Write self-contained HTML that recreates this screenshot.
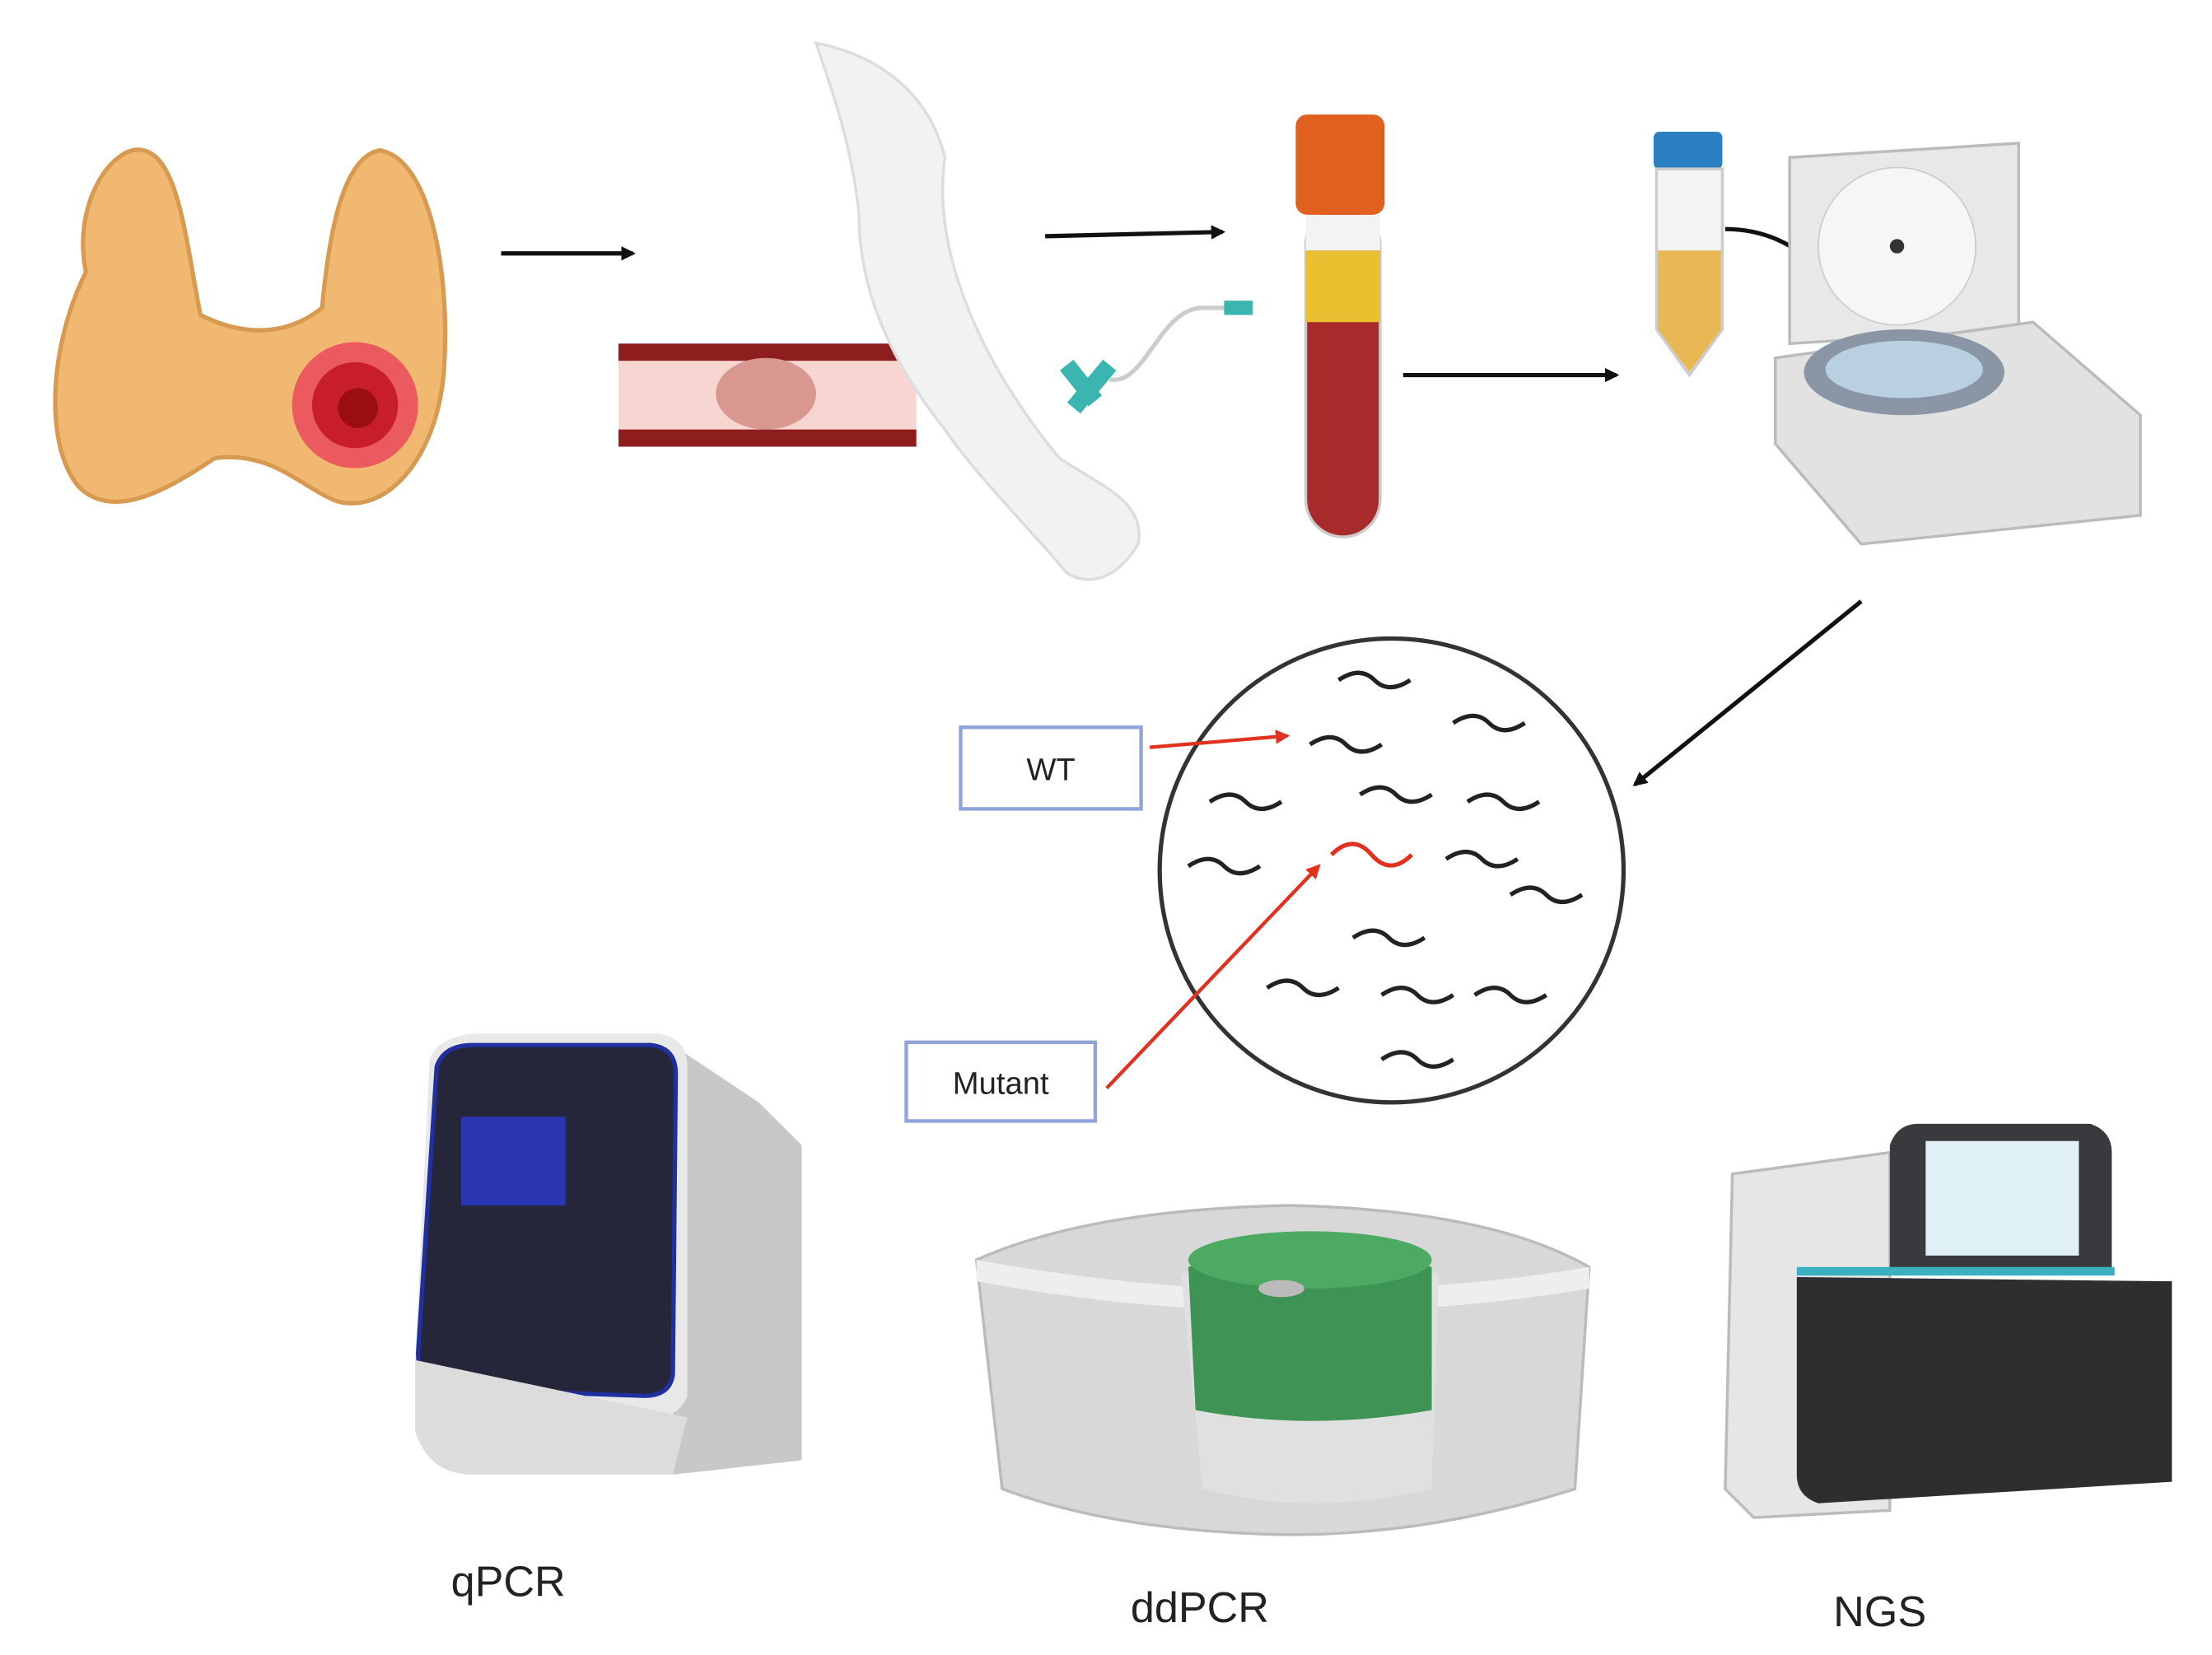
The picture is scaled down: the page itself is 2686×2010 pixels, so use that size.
<!DOCTYPE html>
<html><head><meta charset="utf-8"><style>
html,body{margin:0;padding:0;background:#fff;}
svg{display:block}
text{font-family:"Liberation Sans",sans-serif;}
</style></head><body>
<svg width="2686" height="2010" viewBox="0 0 1545 1156" preserveAspectRatio="none" xmlns="http://www.w3.org/2000/svg">
<defs>
<marker id="ab" markerWidth="10" markerHeight="10" refX="8" refY="5" orient="auto" markerUnits="userSpaceOnUse"><path d="M0,0 L10,5 L0,10 z" fill="#111"/></marker>
<marker id="ar" markerWidth="10" markerHeight="10" refX="8" refY="5" orient="auto" markerUnits="userSpaceOnUse"><path d="M0,0 L10,5 L0,10 z" fill="#e0321e"/></marker>
</defs>
<rect width="1545" height="1156" fill="#fff"/>

<!-- thyroid -->
<path d="M60,190 C50,140 80,100 100,105 C125,110 130,170 140,220 C170,235 200,235 225,215 C230,160 240,110 265,105 C300,110 315,190 310,260 C305,320 270,360 235,350 C210,340 190,315 150,320 C120,340 80,365 55,340 C30,310 35,240 60,190 Z" fill="#f0b870" stroke="#d89a50" stroke-width="3"/>
<circle cx="248" cy="283" r="44" fill="#ea5a5e"/>
<circle cx="248" cy="283" r="30" fill="#c81e2a"/>
<circle cx="250" cy="285" r="14" fill="#9a0e12"/>

<line x1="350" y1="177" x2="442" y2="177" stroke="#111" stroke-width="3" marker-end="url(#ab)"/>

<!-- vessel -->
<rect x="432" y="240" width="208" height="72" fill="#f7d6d2"/>
<rect x="432" y="240" width="208" height="12" fill="#8e1e1e"/>
<rect x="432" y="300" width="208" height="12" fill="#8e1e1e"/>
<ellipse cx="535" cy="275" rx="35" ry="25" fill="#d89890"/>

<!-- arm -->
<path d="M570,30 C620,40 650,70 660,110 C650,180 690,260 740,320 C770,340 800,350 795,380 C780,405 760,410 745,400 C720,370 680,330 660,300 C620,250 600,200 600,150 C595,100 580,60 570,30 Z" fill="#f2f2f2" stroke="#ddd" stroke-width="2"/>
<path d="M745,255 L765,280 M750,285 L775,255" stroke="#3bb5b0" stroke-width="12"/>
<path d="M775,265 C800,270 810,215 840,215 L870,215" stroke="#ccc" stroke-width="3" fill="none"/>
<rect x="855" y="210" width="20" height="10" fill="#3bb5b0"/>

<line x1="730" y1="165" x2="854" y2="162" stroke="#111" stroke-width="3" marker-end="url(#ab)"/>

<!-- blood tube -->
<rect x="912" y="145" width="52" height="230" rx="26" fill="#a82a2a" stroke="#ccc" stroke-width="2"/>
<rect x="912" y="175" width="52" height="50" fill="#e8c030"/>
<rect x="912" y="150" width="52" height="25" fill="#f3f3f3"/>
<rect x="905" y="80" width="62" height="70" rx="8" fill="#e06020"/>

<line x1="980" y1="262" x2="1129" y2="262" stroke="#111" stroke-width="3" marker-end="url(#ab)"/>

<!-- falcon -->
<rect x="1155" y="92" width="48" height="26" rx="4" fill="#2a80c0"/>
<path d="M1157,118 L1203,118 L1203,230 L1180,262 L1157,230 Z" fill="#f3f3f3" stroke="#ccc" stroke-width="2"/>
<path d="M1158,175 L1202,175 L1202,230 L1180,260 L1158,230 Z" fill="#e8b855"/>
<path d="M1205,160 C1250,160 1280,190 1295,225" stroke="#111" stroke-width="3" fill="none" marker-end="url(#ab)"/>

<!-- centrifuge -->
<path d="M1250,110 L1410,100 L1410,230 L1250,240 Z" fill="#e8e8e8" stroke="#bbb" stroke-width="2"/>
<circle cx="1325" cy="172" r="55" fill="#f6f6f6" stroke="#ccc"/>
<circle cx="1325" cy="172" r="5" fill="#333"/>
<path d="M1240,250 L1420,225 L1495,290 L1495,360 L1300,380 L1240,310 Z" fill="#e2e2e2" stroke="#bbb" stroke-width="2"/>
<ellipse cx="1330" cy="260" rx="70" ry="30" fill="#8a96a6"/>
<ellipse cx="1330" cy="258" rx="55" ry="20" fill="#b8d0e0"/>

<line x1="1300" y1="420" x2="1142" y2="548" stroke="#111" stroke-width="3" marker-end="url(#ab)"/>

<!-- circle -->
<circle cx="972" cy="608" r="162" fill="#fff" stroke="#333" stroke-width="3"/>
<g stroke="#222" stroke-width="3" fill="none">
<path d="M935,475 q15,-10 25,0 t25,0"/>
<path d="M1015,505 q15,-10 25,0 t25,0"/>
<path d="M915,520 q15,-10 25,0 t25,0"/>
<path d="M845,560 q15,-10 25,0 t25,0"/>
<path d="M950,555 q15,-10 25,0 t25,0"/>
<path d="M1025,560 q15,-10 25,0 t25,0"/>
<path d="M830,605 q15,-10 25,0 t25,0"/>
<path d="M1010,600 q15,-10 25,0 t25,0"/>
<path d="M1055,625 q15,-10 25,0 t25,0"/>
<path d="M945,655 q15,-10 25,0 t25,0"/>
<path d="M885,690 q15,-10 25,0 t25,0"/>
<path d="M965,695 q15,-10 25,0 t25,0"/>
<path d="M1030,695 q15,-10 25,0 t25,0"/>
<path d="M965,740 q15,-10 25,0 t25,0"/>
</g>
<path d="M930,597 q15,-15 28,0 t28,0" stroke="#e0321e" stroke-width="3" fill="none"/>

<rect x="671" y="508" width="126" height="57" fill="#fff" stroke="#8fa4d8" stroke-width="2.5"/>
<text x="734" y="545" font-size="22" text-anchor="middle" fill="#222">WT</text>
<line x1="803" y1="522" x2="899" y2="514" stroke="#e0321e" stroke-width="2.5" marker-end="url(#ar)"/>
<rect x="633" y="728" width="132" height="55" fill="#fff" stroke="#8fa4d8" stroke-width="2.5"/>
<text x="699" y="764" font-size="22" text-anchor="middle" fill="#222">Mutant</text>
<line x1="773" y1="760" x2="921" y2="605" stroke="#e0321e" stroke-width="2.5" marker-end="url(#ar)"/>

<!-- qPCR -->
<path d="M470,730 L530,770 L560,800 L560,1020 L470,1030 Z" fill="#c8c8c8"/>
<path d="M300,740 Q305,725 330,722 L460,722 Q480,725 480,745 L480,975 Q475,990 455,990 L320,985 Q290,980 290,950 Z" fill="#e8e8e8"/>
<path d="M305,745 Q310,730 330,730 L455,730 Q472,732 472,750 L470,960 Q468,975 450,975 L310,970 Q292,965 292,945 Z" fill="#26263a" stroke="#2030a0" stroke-width="3"/>
<rect x="322" y="780" width="73" height="62" fill="#2a35b0"/>
<path d="M290,950 L290,1000 Q300,1030 330,1030 L470,1030 L480,990 Z" fill="#dcdcdc"/>
<text x="355" y="1115" font-size="30" text-anchor="middle" fill="#222">qPCR</text>

<!-- ddPCR -->
<path d="M682,880 Q760,845 900,842 Q1040,845 1110,885 L1100,1040 Q1000,1072 900,1072 Q780,1070 700,1040 Z" fill="#d8d8d8" stroke="#bbb" stroke-width="2"/>
<path d="M682,880 Q900,920 1110,885 L1110,900 Q900,935 682,895 Z" fill="#eee"/>
<path d="M825,890 Q920,860 1005,890 L1000,1040 Q915,1060 840,1040 Z" fill="#e0e0e0"/>
<path d="M830,885 Q915,860 1000,885 L1000,985 Q915,1000 835,985 Z" fill="#3d9454"/>
<ellipse cx="915" cy="880" rx="85" ry="20" fill="#4caa62"/>
<ellipse cx="895" cy="900" rx="16" ry="6" fill="#bbb"/>
<text x="838" y="1133" font-size="30" text-anchor="middle" fill="#222">ddPCR</text>

<!-- NGS -->
<path d="M1210,820 L1320,805 L1320,1055 L1225,1060 L1205,1040 Z" fill="#e6e6e6" stroke="#bbb" stroke-width="2"/>
<path d="M1320,800 Q1325,785 1340,785 L1460,785 Q1475,790 1475,805 L1475,890 L1320,890 Z" fill="#3a3a3e"/>
<rect x="1345" y="797" width="107" height="80" fill="#dff0f6"/>
<rect x="1255" y="885" width="222" height="6" fill="#3ab0c0"/>
<path d="M1255,892 L1517,895 L1517,1035 L1270,1050 Q1255,1045 1255,1030 Z" fill="#2e2e30"/>
<text x="1313" y="1136" font-size="30" text-anchor="middle" fill="#222">NGS</text>
</svg>
</body></html>
